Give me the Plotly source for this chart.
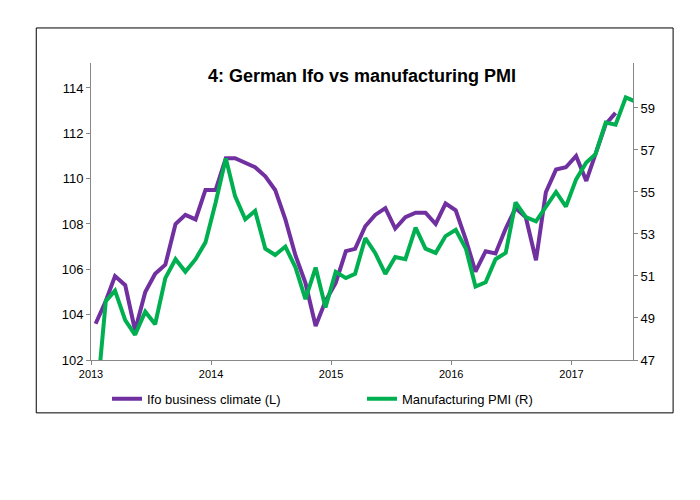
import plotly.graph_objects as go
import pandas as pd

ifo = [104.6, 105.7, 105.3, 103.3, 105.0, 105.8, 106.2, 108.0, 108.4, 108.2, 109.5, 109.5,
       110.9, 110.9, 110.7, 110.5, 110.1, 109.5, 108.2, 106.6, 105.4, 103.5, 104.6, 105.4,
       106.8, 106.9, 107.9, 108.4, 108.7, 107.8, 108.3, 108.5, 108.5, 108.0, 108.9, 108.6,
       107.3, 105.9, 106.8, 106.7, 107.8, 108.7, 108.3, 106.4, 109.4, 110.4, 110.5, 111.0,
       109.9, 111.1, 112.4, 112.9]
pmi = [49.8, 50.3, 48.9, 48.2, 49.3, 48.7, 50.9, 51.8, 51.2, 51.8, 52.6, 54.5,
       56.6, 54.8, 53.7, 54.1, 52.3, 52.0, 52.4, 51.4, 49.9, 51.4, 49.5, 51.2,
       50.9, 51.1, 52.8, 52.1, 51.1, 51.9, 51.8, 53.3, 52.3, 52.1, 52.9, 53.2,
       52.3, 50.5, 50.7, 51.8, 52.1, 54.5, 53.8, 53.6, 54.3, 55.0, 54.3, 55.6,
       56.4, 56.8, 58.3, 58.2, 59.5, 59.3]
ifo_prev, pmi_prev = 103.6, 44.5  # Dec 2012, clipped by axis start
dates = pd.date_range("2012-12-15", periods=len(pmi) + 1, freq="MS") + pd.Timedelta(days=14)
years = ["2013", "2014", "2015", "2016", "2017"]

fig = go.Figure()
fig.add_trace(go.Scatter(x=dates[:len(ifo) + 1], y=[ifo_prev] + ifo, name="Ifo business climate (L)",
                         mode="lines", line=dict(color="#7030A0", width=4)))
fig.add_trace(go.Scatter(x=dates, y=[pmi_prev] + pmi, name="Manufacturing PMI (R)", yaxis="y2",
                         mode="lines", line=dict(color="#00B050", width=4)))

ax = dict(showgrid=False, showline=True, linecolor="#888", ticks="outside", ticklen=4,
          tickcolor="#888", automargin=False)
fig.update_layout(
    width=700, height=500, paper_bgcolor="white", plot_bgcolor="white",
    margin=dict(l=83, r=75, t=55, b=148, autoexpand=False),
    font=dict(family="Liberation Sans, Arial", size=12, color="black"),
    xaxis=dict(range=["2013-01-01", "2017-07-07"], tickvals=[f"{y}-01-01" for y in years],
               ticktext=years, tickfont=dict(size=11), **ax),
    yaxis=dict(range=[102, 115.1], tickvals=list(range(102, 115, 2)), tickfont=dict(size=13), **ax),
    yaxis2=dict(range=[47, 61.14], tickvals=list(range(47, 60, 2)), overlaying="y", side="right",
                tickfont=dict(size=13), **ax),
    legend=dict(orientation="h", x=0.5, xanchor="center", y=-0.08, yanchor="top",
                font=dict(size=13), entrywidth=210, bgcolor="rgba(0,0,0,0)"),
    annotations=[dict(text="<b>4: German Ifo vs manufacturing PMI</b>", x=0.5, xref="paper",
                      y=1 - (68 - 55) / 297, yref="paper", yanchor="middle", showarrow=False,
                      font=dict(size=18))],
    shapes=[dict(type="rect", xref="paper", yref="paper", x0=-0.101, x1=1.074, y0=-0.178, y1=1.118,
                 line=dict(color="black", width=1))],
)
fig.write_html("out.html")
